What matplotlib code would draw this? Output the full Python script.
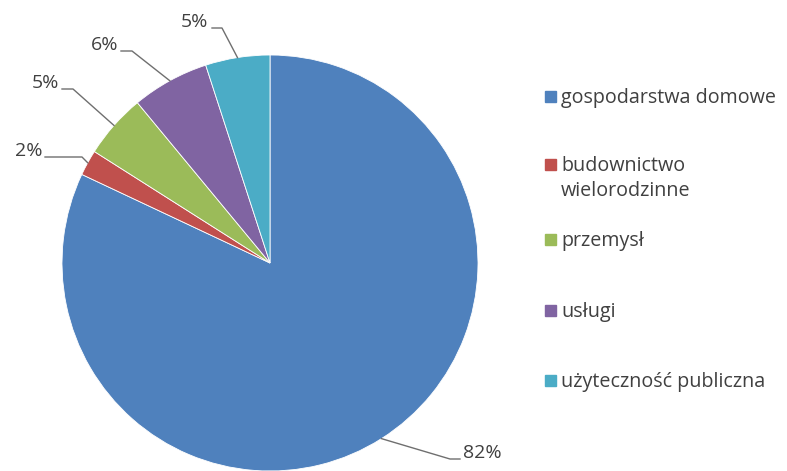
import numpy as np
import matplotlib
matplotlib.use("Agg")
import matplotlib.pyplot as plt
from matplotlib.patches import Rectangle

# dane
categories = ["gospodarstwa domowe", "budownictwo\nwielorodzinne", "przemysł",
              "usługi", "użyteczność publiczna"]
shares = [82, 2, 5, 6, 5]
colors = ["#4F81BD", "#C0504D", "#9BBB59", "#8064A2", "#4BACC6"]

# układ (piksele, oś y w górę)
W, H = 787, 471
center = (270, H - 263)
radius = 208
# (x tekstu, y linii bazowej, x początku łamania, x łamania)
label_pos = [
    (463, H - 459, 460, 450),
    (42, H - 157, 45, 82),
    (59, H - 89, 62, 73),
    (118, H - 51, 121, 132),
    (208, H - 28, 212, 222),
]
legend_y = [97, 165, 240, 311, 381]

plt.rcParams["font.family"] = ["Open Sans", "DejaVu Sans"]
fig = plt.figure(figsize=(W / 100, H / 100), dpi=100)
ax = fig.add_axes([0, 0, 1, 1])

wedges, _ = ax.pie(shares, colors=colors, startangle=90, counterclock=False,
                   center=center, radius=radius, frame=True,
                   wedgeprops=dict(edgecolor="white", linewidth=0.6))
ax.set_xlim(0, W)
ax.set_ylim(0, H)
ax.set_aspect("equal")
ax.axis("off")

text_color = "#404040"
for w, val, (tx, ty, hx0, hx1) in zip(wedges, shares, label_pos):
    mid = np.deg2rad((w.theta1 + w.theta2) / 2)
    ex = center[0] + radius * np.cos(mid)
    ey = center[1] + radius * np.sin(mid)
    ax.plot([ex, hx1, hx0], [ey, ty, ty], color="#6f6f6f", lw=1.0)
    ha = "left" if tx > center[0] else "right"
    ax.text(tx, ty + 1, f"{val}%", ha=ha, va="baseline", fontsize=14,
            color=text_color)

for lab, c, y in zip(categories, colors, legend_y):
    ax.add_patch(Rectangle((545, H - y - 5), 11, 11, color=c))
    two_lines = "\n" in lab
    ax.text(561, H - y - 1 + (10 if two_lines else 0), lab, ha="left",
            va="top" if two_lines else "center",
            fontsize=14.2, color=text_color, linespacing=1.3)

fig.savefig("out.png", dpi=100, facecolor="white")
